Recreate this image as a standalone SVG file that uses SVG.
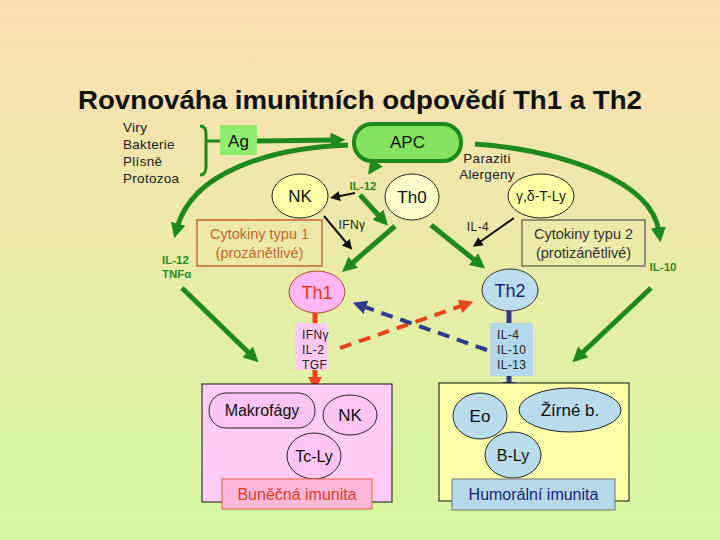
<svg xmlns="http://www.w3.org/2000/svg" width="720" height="540" viewBox="0 0 720 540">
<defs>
<linearGradient id="bg" x1="0" y1="0" x2="0" y2="1">
<stop offset="0" stop-color="#FCDDB2"/>
<stop offset="0.5" stop-color="#E8EBA8"/>
<stop offset="1" stop-color="#D4F8A2"/>
</linearGradient>
<marker id="gA" viewBox="0 0 10 10" refX="3" refY="5" markerWidth="15" markerHeight="15" markerUnits="userSpaceOnUse" orient="auto"><path d="M0,0 L10,5 L0,10 z" fill="#1E8A1E"/></marker>
<marker id="kA" viewBox="0 0 10 10" refX="5" refY="5" markerWidth="10" markerHeight="10" markerUnits="userSpaceOnUse" orient="auto"><path d="M0,0 L10,5 L0,10 z" fill="#111"/></marker>
<marker id="rA" viewBox="0 0 10 10" refX="3" refY="5" markerWidth="14" markerHeight="14" markerUnits="userSpaceOnUse" orient="auto"><path d="M0,0 L10,5 L0,10 z" fill="#E8451C"/></marker>
<marker id="nA" viewBox="0 0 10 10" refX="3" refY="5" markerWidth="14" markerHeight="14" markerUnits="userSpaceOnUse" orient="auto"><path d="M0,0 L10,5 L0,10 z" fill="#2E3A8C"/></marker>
</defs>
<style>
text{font-family:"Liberation Sans",Arial,sans-serif;}
.t{font-size:13.5px;fill:#222;letter-spacing:0.3px;}
.s{font-size:12px;fill:#222;letter-spacing:0.4px;}
.gl{font-size:11.5px;font-weight:bold;fill:#2E8B1E;}
.nd{font-size:17px;fill:#111;}
.g{stroke:#1E8A1E;stroke-width:5;fill:none;}
.k{stroke:#111;stroke-width:2;fill:none;}
.cy{fill:#FFFFA8;stroke:#222;stroke-width:1;}
.bl{fill:#B8DCEC;stroke:#222;stroke-width:1;}
.pk{fill:#FFC4F2;stroke:#222;stroke-width:1;}
</style>
<rect width="720" height="540" fill="url(#bg)"/>
<text x="360" y="109" text-anchor="middle" font-family="'Comic Sans MS','DejaVu Sans',sans-serif" font-weight="bold" font-size="26" fill="#111" textLength="564" lengthAdjust="spacingAndGlyphs">Rovnováha imunitních odpovědí Th1 a Th2</text>

<g id="pathogens">
<text class="t" x="123" y="132">Viry</text>
<text class="t" x="123" y="149">Bakterie</text>
<text class="t" x="123" y="166">Plísně</text>
<text class="t" x="123" y="183">Protozoa</text>
<path d="M200,126 Q206,126 206,134 L206,167 Q206,175 200,175" fill="none" stroke="#1E8A1E" stroke-width="3"/>
<line x1="206" y1="141" x2="220" y2="141" stroke="#1E8A1E" stroke-width="3"/>
</g>

<g id="connectors">
<line class="g" x1="257" y1="141" x2="335" y2="140" marker-end="url(#gA)"/>
<path class="g" d="M348,145 C270,148 192,172 177,228" marker-end="url(#gA)"/>
<path class="g" d="M475,144 C560,150 652,180 659,232" marker-end="url(#gA)"/>
<line class="g" x1="376" y1="163" x2="374" y2="166" stroke-width="4" marker-end="url(#gA)"/>
<line class="k" x1="355" y1="193" x2="335" y2="197" marker-end="url(#kA)"/>
<line class="g" stroke-width="4.5" x1="360" y1="195" x2="381" y2="218" marker-end="url(#gA)"/>
<line class="k" x1="324" y1="216" x2="349" y2="246" marker-end="url(#kA)"/>
<line class="g" x1="395" y1="226" x2="350" y2="265" marker-end="url(#gA)"/>
<line class="g" x1="431" y1="225" x2="477" y2="262" marker-end="url(#gA)"/>
<line class="k" x1="514" y1="218" x2="477" y2="244" marker-end="url(#kA)"/>
<line class="g" x1="182" y1="288" x2="251" y2="355" marker-end="url(#gA)"/>
<line class="g" x1="651" y1="288" x2="580" y2="355" marker-end="url(#gA)"/>
<line x1="315" y1="312" x2="315" y2="324" stroke="#E8451C" stroke-width="5"/>
<line x1="315" y1="370" x2="315" y2="381" stroke="#E8451C" stroke-width="5" marker-end="url(#rA)"/>
<line x1="509" y1="310" x2="509" y2="324" stroke="#2E3A8C" stroke-width="5"/>
<line x1="509" y1="376" x2="509" y2="386" stroke="#2E3A8C" stroke-width="5" marker-end="url(#nA)"/>
<line x1="340" y1="348" x2="464" y2="305" stroke="#E8451C" stroke-width="4" stroke-dasharray="12 8" marker-end="url(#rA)"/>
<line x1="487" y1="350" x2="362" y2="306" stroke="#2E3A8C" stroke-width="4" stroke-dasharray="12 8" marker-end="url(#nA)"/>
</g>

<g id="ag"><rect x="220" y="125" width="37" height="30" fill="#90EC6E"/><text class="nd" x="238.5" y="147" text-anchor="middle">Ag</text></g>
<g id="apc"><rect x="354" y="124" width="107" height="37" rx="18" fill="#84E25E" stroke="#1E8A1E" stroke-width="4"/><text class="nd" x="407.5" y="148" text-anchor="middle">APC</text></g>
<g id="il12a"><text class="gl" x="363" y="190" text-anchor="middle">IL-12</text></g>
<g id="nk"><ellipse class="cy" cx="300" cy="196" rx="28" ry="22"/><text class="nd" x="300" y="202" text-anchor="middle">NK</text></g>
<g id="ifng"><text class="s" x="352" y="229" text-anchor="middle">IFNγ</text></g>
<g id="th0"><ellipse cx="412" cy="197" rx="27" ry="23" fill="#FFFFCC" stroke="#222"/><text class="nd" x="412" y="203" text-anchor="middle">Th0</text></g>
<g id="paraziti"><text class="t" x="487" y="163" text-anchor="middle">Paraziti</text><text class="t" x="487" y="179" text-anchor="middle">Alergeny</text></g>
<g id="gdt"><ellipse class="cy" cx="541" cy="196" rx="33" ry="22"/><text x="541" y="201" text-anchor="middle" font-size="14" fill="#222">γ,δ-T-Ly</text></g>
<g id="il4"><text class="s" x="478" y="231" text-anchor="middle">IL-4</text></g>
<g id="cyt1"><rect x="197" y="220" width="125" height="46" fill="none" stroke="#C8652E" stroke-width="1.5"/><text x="259.5" y="239" text-anchor="middle" font-size="14.5" fill="#C8652E">Cytokiny typu 1</text><text x="259.5" y="258" text-anchor="middle" font-size="14.5" fill="#C8652E">(prozánětlivé)</text></g>
<g id="cyt2"><rect x="522" y="220" width="123" height="46" fill="none" stroke="#555" stroke-width="1.2"/><text x="583.5" y="239" text-anchor="middle" font-size="14.5" fill="#333">Cytokiny typu 2</text><text x="583.5" y="258" text-anchor="middle" font-size="14.5" fill="#333">(protizánětlivé)</text></g>
<g id="il12tnf"><text class="gl" x="162" y="264">IL-12</text><text class="gl" x="162" y="278">TNFα</text></g>
<g id="il10"><text class="gl" x="663" y="271" text-anchor="middle">IL-10</text></g>
<g id="th1"><ellipse cx="317" cy="292" rx="28" ry="21" fill="#FFB6F2" stroke="#B04A30"/><text x="317" y="299" text-anchor="middle" font-size="18" fill="#E03A20">Th1</text></g>
<g id="th2"><ellipse cx="510" cy="290" rx="28" ry="21" fill="#BCDDEE" stroke="#333"/><text x="510" y="297" text-anchor="middle" font-size="18" fill="#1A237E">Th2</text></g>
<g id="cyt1list"><rect x="295" y="323" width="32" height="47" fill="#FFC8F4"/><text class="s" x="302" y="339">IFNγ</text><text class="s" x="302" y="354">IL-2</text><text class="s" x="302" y="369">TGF</text></g>
<g id="cyt2list"><rect x="490" y="323" width="43" height="53" fill="#B2D8EA"/><text class="s" x="497" y="339">IL-4</text><text class="s" x="497" y="354">IL-10</text><text class="s" x="497" y="369">IL-13</text></g>
<g id="cellular">
<rect x="202" y="384" width="190" height="118" fill="#FFCCF6" stroke="#111"/>
<rect x="209" y="393" width="106" height="35" rx="17" class="pk"/><text x="262" y="416" text-anchor="middle" font-size="16" fill="#111">Makrofágy</text>
<ellipse cx="350" cy="415" rx="27" ry="20" class="pk"/><text x="350" y="421" text-anchor="middle" font-size="17" fill="#111">NK</text>
<ellipse cx="314" cy="456" rx="27" ry="23" class="pk"/><text x="314" y="462" text-anchor="middle" font-size="16" fill="#111">Tc-Ly</text>
<rect x="222" y="479" width="150" height="30" fill="#FFB8DA" stroke="#E0603A"/><text x="297" y="500" text-anchor="middle" font-size="16" fill="#E03A20">Buněčná imunita</text>
</g>
<g id="humoral">
<rect x="439" y="383" width="190" height="118" fill="#FFFFAA" stroke="#111"/>
<ellipse cx="480" cy="416" rx="27" ry="23" class="bl"/><text x="480" y="422" text-anchor="middle" font-size="17" fill="#111">Eo</text>
<ellipse cx="570" cy="410" rx="51" ry="22" class="bl"/><text x="570" y="416" text-anchor="middle" font-size="17" fill="#111">Žírné b.</text>
<ellipse cx="513" cy="455" rx="28" ry="23" class="bl"/><text x="513" y="461" text-anchor="middle" font-size="16" fill="#111">B-Ly</text>
<rect x="452" y="479" width="163" height="31" fill="#B5D8E8" stroke="#777"/><text x="533.5" y="500" text-anchor="middle" font-size="16" fill="#1A237E">Humorální imunita</text>
</g>
</svg>
